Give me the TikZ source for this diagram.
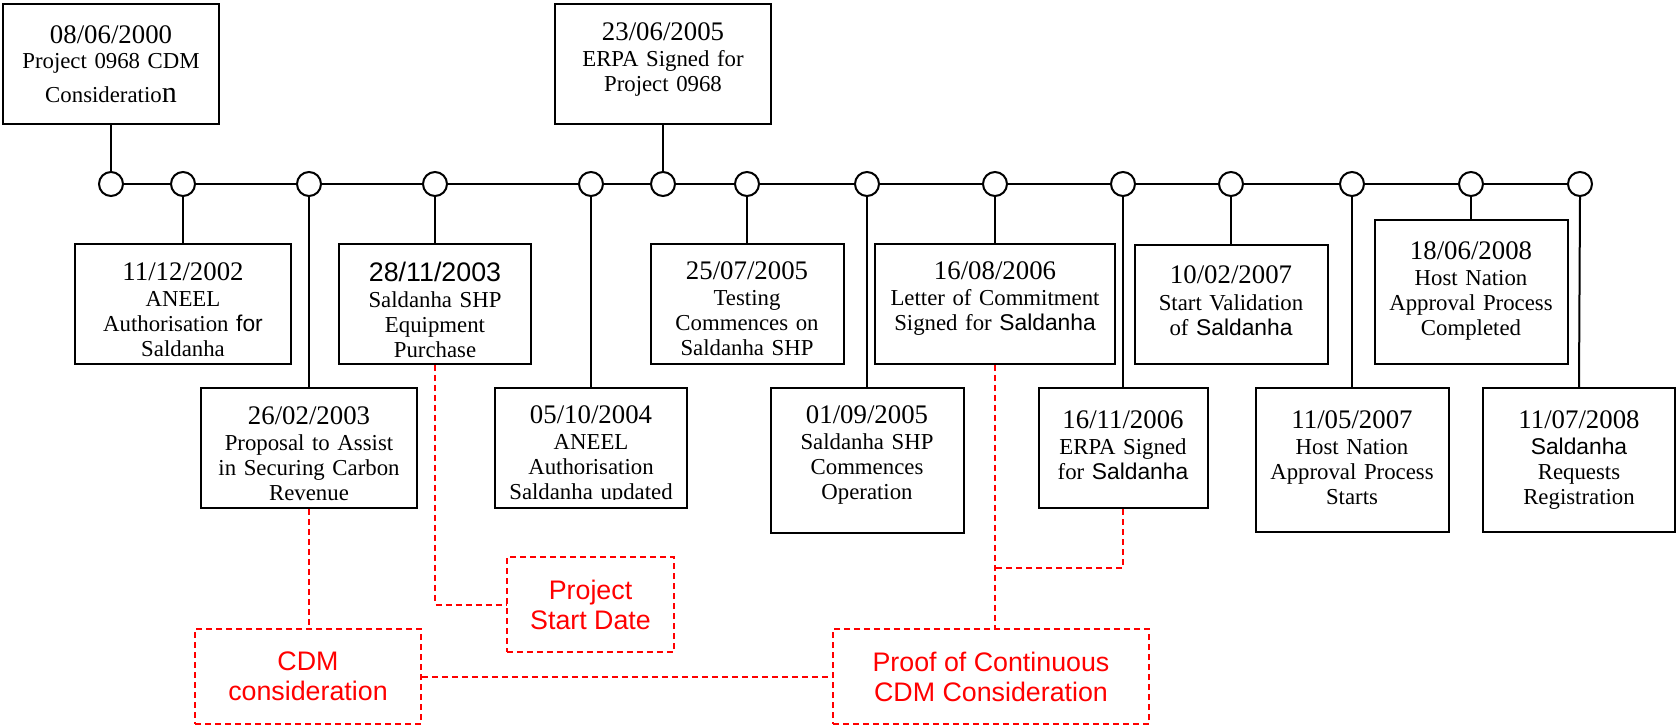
\documentclass[tikz,border=0pt]{standalone}
\usepackage{fontspec}
\setmainfont{Liberation Serif}
\setsansfont{Liberation Sans}
\usetikzlibrary{calc}
\newcommand\evdate[1]{{\fontsize{13.4}{12.5}\selectfont #1}}
\newcommand\sfw[1]{{\sffamily #1}}
\begin{document}
\begin{tikzpicture}[x=0.5pt,y=-0.5pt,
  evbox/.style={draw, line width=1pt, inner sep=0pt, fill=white},
  tl/.style={circle, draw, line width=1pt, fill=white, minimum size=12pt, inner sep=0pt},
  stem/.style={line width=1pt},
  evtext/.style={anchor=base, align=center, inner sep=0pt, font=\fontsize{11.4}{12.5}\selectfont},
  redbox/.style={draw=red, line width=1pt, dash pattern=on 3pt off 2pt, text=red, align=center, inner sep=0pt, font=\sffamily\fontsize{13.4}{15}\selectfont, minimum height=47.5pt},
  reddash/.style={draw=red, line width=1pt, dash pattern=on 3pt off 2pt}
]
\useasboundingbox (0,0) rectangle (1677,728);

% timeline circles
\node[tl] (c1) at (111,184) {};
\node[tl] (c2) at (183,184) {};
\node[tl] (c3) at (309,184) {};
\node[tl] (c4) at (435,184) {};
\node[tl] (c5) at (591,184) {};
\node[tl] (c6) at (663,184) {};
\node[tl] (c7) at (747,184) {};
\node[tl] (c8) at (867,184) {};
\node[tl] (c9) at (995,184) {};
\node[tl] (c10) at (1123,184) {};
\node[tl] (c11) at (1231,184) {};
\node[tl] (c12) at (1352,184) {};
\node[tl] (c13) at (1471,184) {};
\node[tl] (c14) at (1580,184) {};
\draw[stem] (c1) -- (c2) -- (c3) -- (c4) -- (c5) -- (c6) -- (c7) -- (c8) -- (c9) -- (c10) -- (c11) -- (c12) -- (c13) -- (c14);

% event boxes
\node[evbox, minimum width=108pt, minimum height=60pt] (b1) at (111,64) {};
\node[evbox, minimum width=108pt, minimum height=60pt] (b2) at (663,64) {};
\node[evbox, minimum width=108pt, minimum height=60pt] (b3) at (183,304) {};
\node[evbox, minimum width=96pt, minimum height=60pt] (b4) at (435,304) {};
\node[evbox, minimum width=108pt, minimum height=60pt] (b5) at (309,448) {};
\node[evbox, minimum width=96pt, minimum height=60pt] (b6) at (591,448) {};
\node[evbox, minimum width=96.5pt, minimum height=60pt] (b7) at (747,304) {};
\node[evbox, minimum width=120pt, minimum height=60pt] (b8) at (995,304) {};
\node[evbox, minimum width=96.5pt, minimum height=72.5pt] (b9) at (867,460.5) {};
\node[evbox, minimum width=84.5pt, minimum height=60pt] (b10) at (1123,448) {};
\node[evbox, minimum width=96.5pt, minimum height=59.5pt] (b11) at (1231,304.5) {};
\node[evbox, minimum width=96.5pt, minimum height=72pt] (b12) at (1352,460) {};
\node[evbox, minimum width=96.5pt, minimum height=72pt] (b13) at (1471,292) {};
\node[evbox, minimum width=96pt, minimum height=72pt] (b14) at (1579,460) {};

% stems
\draw[stem] (b1.south) -- (c1.north);
\draw[stem] (b2.south) -- (c6.north);
\draw[stem] (c2.south) -- (b3.north);
\draw[stem] (c3.south) -- (b5.north);
\draw[stem] (c4.south) -- (b4.north);
\draw[stem] (c5.south) -- (b6.north);
\draw[stem] (c7.south) -- (b7.north);
\draw[stem] (c8.south) -- (b9.north);
\draw[stem] (c9.south) -- (b8.north);
\draw[stem] (c10.south) -- (b10.north);
\draw[stem] (c11.south) -- (b11.north);
\draw[stem] (c12.south) -- (b12.north);
\draw[stem] (c13.south) -- (b13.north);
\draw[stem] (c14.south) -- (b14.north);

% texts
\node[evtext, text width=106pt] (t1) at (111,43) {\evdate{08/06/2000}\\[0.5pt] Project 0968 CDM\\[4pt] Consideratio{\fontsize{15}{12.5}\selectfont n}};
\node[evtext, text width=106pt] (t2) at (663,40) {\evdate{23/06/2005}\\[0.5pt] ERPA Signed for\\ Project 0968};
\node[evtext, text width=106pt] (t3) at (183,280) {\evdate{11/12/2002}\\[0.5pt] ANEEL\\ Authorisation \sfw{for}\\ Saldanha};
\node[evtext, text width=94pt] (t4) at (435,281) {\evdate{\sffamily 28/11/2003}\\[0.5pt] Saldanha SHP\\ Equipment\\ Purchase};
\node[evtext, text width=106pt] (t5) at (309,424) {\evdate{26/02/2003}\\[0.5pt] Proposal to Assist\\ in Securing Carbon\\ Revenue};
\begin{scope}
\clip (495,388) rectangle (687,499);
\node[evtext, text width=94pt] (t6) at (591,423) {\evdate{05/10/2004}\\[0.5pt] ANEEL\\ Authorisation\\ Saldanha updated};
\end{scope}
\node[evtext, text width=94pt] (t7) at (747,279) {\evdate{25/07/2005}\\[0.5pt] Testing\\ Commences on\\ Saldanha SHP};
\node[evtext, text width=118pt] (t8) at (995,279) {\evdate{16/08/2006}\\[0.5pt] Letter of Commitment\\ Signed for \sfw{Saldanha}};
\node[evtext, text width=94pt] (t9) at (867,423) {\evdate{01/09/2005}\\[0.5pt] Saldanha SHP\\ Commences\\ Operation};
\node[evtext, text width=84pt] (t10) at (1123,428) {\evdate{16/11/2006}\\[0.5pt] ERPA Signed\\ for \sfw{Saldanha}};
\node[evtext, text width=94pt] (t11) at (1231,283) {\evdate{10/02/2007}\\[1pt] Start Validation\\ of \sfw{Saldanha}};
\node[evtext, text width=94pt] (t12) at (1352,428) {\evdate{11/05/2007}\\[0.5pt] Host Nation\\ Approval Process\\ Starts};
\node[evtext, text width=94pt] (t13) at (1471,259) {\evdate{18/06/2008}\\[0.5pt] Host Nation\\ Approval Process\\ Completed};
\node[evtext, text width=94pt] (t14) at (1579,428) {\evdate{11/07/2008}\\[0.5pt] \sfw{Saldanha}\\ Requests\\ Registration};

% red annotation boxes
\node[redbox, minimum width=113pt] (cdm) at (308,676.5) {CDM\\ consideration};
\node[redbox, minimum width=83.5pt] (psd) at (590.5,604.5) {Project\\ Start Date};
\node[redbox, minimum width=158pt] (proof) at (991,676.5) {Proof of Continuous\\ CDM Consideration};

% red dashed connectors
\coordinate (j) at (995,568);
\draw[reddash] (b5.south) -- (b5.south |- cdm.north);
\draw[reddash] (b4.south) |- (psd.west);
\draw[reddash] (cdm.east) -- (proof.west);
\draw[reddash] (b8.south) -- (b8.south |- proof.north);
\draw[reddash] (b10.south) |- (j);
\end{tikzpicture}
\end{document}
